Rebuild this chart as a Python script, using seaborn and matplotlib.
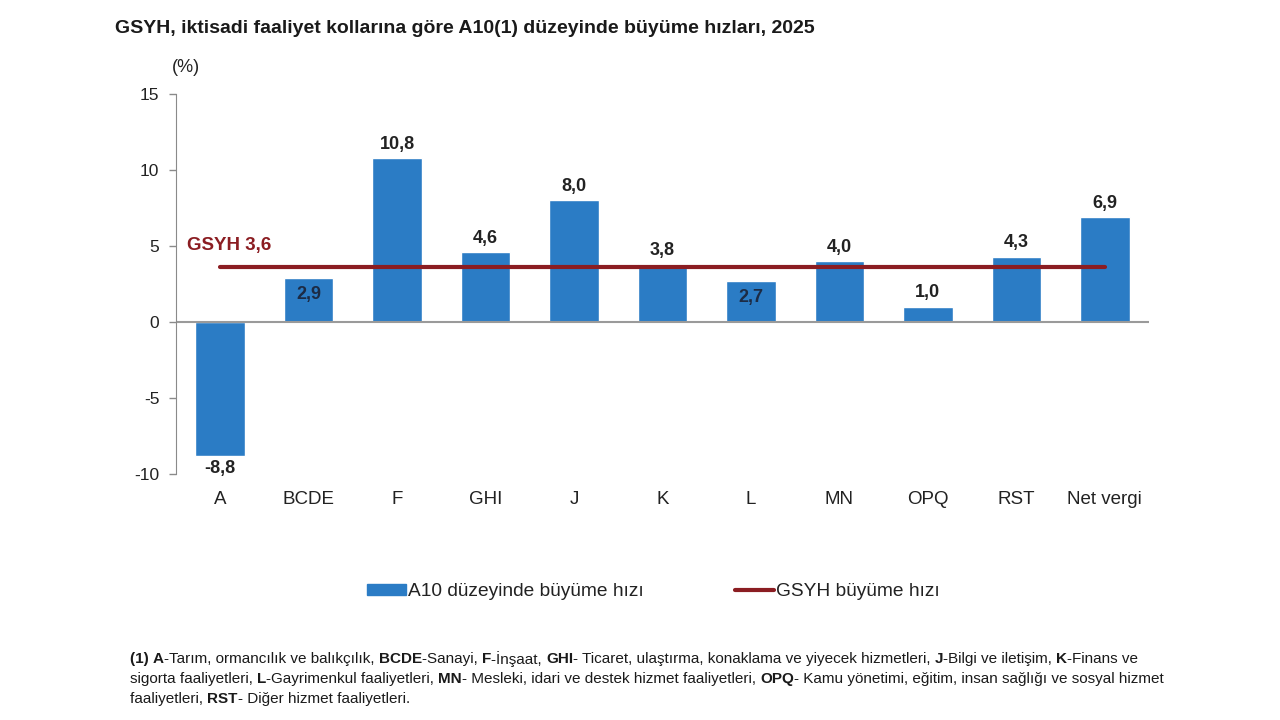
import matplotlib
matplotlib.use('Agg')
import matplotlib.pyplot as plt
import seaborn as sns
import pandas as pd
import numpy as np
from matplotlib.patches import Patch
from matplotlib.lines import Line2D

# Veriler
kollar = ['A', 'BCDE', 'F', 'GHI', 'J', 'K', 'L', 'MN', 'OPQ', 'RST', 'Net vergi']
hizlar = [-8.8, 2.9, 10.8, 4.6, 8.0, 3.8, 2.7, 4.0, 1.0, 4.3, 6.9]
gsyh = 3.6
ic_etiket = ['BCDE', 'L']   # etiketi çubuğun içinde olanlar

baslik = 'GSYH, iktisadi faaliyet kollarına göre A10(1) düzeyinde büyüme hızları, 2025'
dipnot = [
    [('(1) ', 1), ('A', 1), ('-Tarım, ormancılık ve balıkçılık, ', 0), ('BCDE', 1), ('-Sanayi, ', 0),
     ('F', 1), ('-İnşaat, ', 0), ('GHI', 1), ('- Ticaret, ulaştırma, konaklama ve yiyecek hizmetleri, ', 0),
     ('J', 1), ('-Bilgi ve iletişim, ', 0), ('K', 1), ('-Finans ve', 0)],
    [('sigorta faaliyetleri, ', 0), ('L', 1), ('-Gayrimenkul faaliyetleri, ', 0), ('MN', 1),
     ('- Mesleki, idari ve destek hizmet faaliyetleri, ', 0), ('OPQ', 1),
     ('- Kamu yönetimi, eğitim, insan sağlığı ve sosyal hizmet', 0)],
    [('faaliyetleri, ', 0), ('RST', 1), ('- Diğer hizmet faaliyetleri.', 0)],
]

df = pd.DataFrame({'kol': kollar, 'hiz': hizlar})

mavi = '#2b7cc5'
kirmizi = '#8b1d22'

sns.set_style('white')
plt.rcParams['font.family'] = ['Liberation Sans', 'DejaVu Sans']
plt.rcParams['axes.unicode_minus'] = False

fig = plt.figure(figsize=(12.8, 7.2), dpi=100)
ax = fig.add_axes([0.1375, 0.3417, 0.7602, 0.5277])

sns.barplot(data=df, x='kol', y='hiz', color=mavi, saturation=1, width=0.56, ax=ax)
ax.axhline(0, color='#9a9a9a', lw=1.5, zorder=1)
ax.plot(np.arange(len(kollar)), np.full(len(kollar), gsyh), color=kirmizi, lw=3, zorder=4)

# Değer etiketleri
for i, (k, v) in enumerate(zip(kollar, hizlar)):
    s = f'{v:.1f}'.replace('.', ',')
    if k in ic_etiket:
        ax.text(i, v - 0.5, s, ha='center', va='top', fontsize=13, fontweight='bold', color='#1c2b45', zorder=5)
    elif v < 0:
        ax.text(i, v - 0.3, s, ha='center', va='top', fontsize=13, fontweight='bold', color='#222222')
    else:
        ax.text(i, v + 0.35, s, ha='center', va='bottom', fontsize=13, fontweight='bold', color='#222222')

ax.text(-0.37, 5.05, f'GSYH {gsyh:.1f}'.replace('.', ','), ha='left', va='center',
        fontsize=13.5, fontweight='bold', color=kirmizi)

ax.set_xlim(-0.5, len(kollar) - 0.5)
ax.set_ylim(-10, 15)
ax.set_yticks([-10, -5, 0, 5, 10, 15])
ax.set_xlabel('')
ax.set_ylabel('')
for sp in ['top', 'right', 'bottom']:
    ax.spines[sp].set_visible(False)
ax.spines['left'].set_color('#8a8a8a')
ax.tick_params(axis='y', length=5, width=1, color='#8a8a8a', pad=7, labelsize=12.5, labelcolor='#222222', left=True)
ax.tick_params(axis='x', length=0, pad=12, labelsize=13.5, labelcolor='#222222')
ax.text(0.01, 1.071, '(%)', transform=ax.transAxes, ha='center', va='center', fontsize=13, color='#222222')

fig.text(0.0898, 0.961, baslik, ha='left', va='center', fontsize=14, fontweight='bold', color='#1a1a1a')

el = [Patch(facecolor=mavi, edgecolor=mavi, label='A10 düzeyinde büyüme hızı'),
      Line2D([0], [0], color=kirmizi, lw=3, label='GSYH büyüme hızı')]
fig.legend(handles=el, loc='center', bbox_to_anchor=(0.5105, 0.178), ncol=2, frameon=False,
           fontsize=13.8, handlelength=2.0, handleheight=0.5, handletextpad=0.1, columnspacing=4.8,
           labelcolor='#222222')

# Dipnot (kalın / normal parçalar)
fig.canvas.draw()
r = fig.canvas.get_renderer()
W = fig.bbox.width


def genislik(s, w):
    a = fig.text(0, 0, s + '|', fontsize=11, fontweight=w)
    b = fig.text(0, 0, '|', fontsize=11, fontweight=w)
    g = a.get_window_extent(r).width - b.get_window_extent(r).width
    a.remove()
    b.remove()
    return g


for j, satir in enumerate(dipnot):
    x = 130 / W
    y = 1 - (659 + 20 * j) / 720
    for parca, kalin in satir:
        w = 'bold' if kalin else 'normal'
        fig.text(x, y, parca, fontsize=11, fontweight=w, ha='left', va='center', color='#1a1a1a')
        x += genislik(parca, w) / W

fig.savefig('out.png', dpi=100)
